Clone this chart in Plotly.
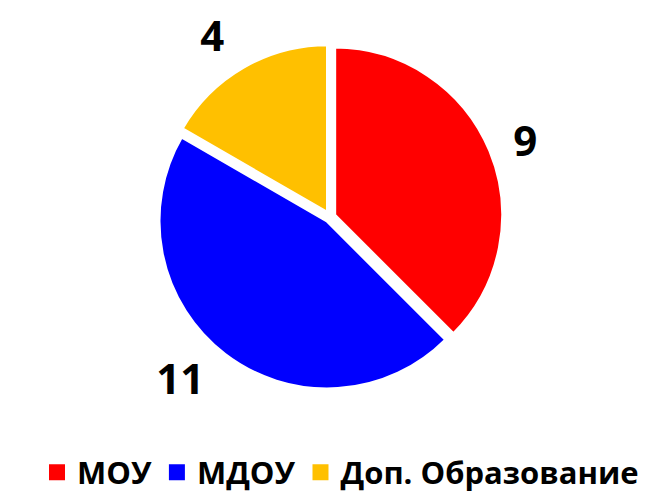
import plotly.graph_objects as go

# Data
categories = ["МОУ", "МДОУ", "Доп. Образование"]
values = [9, 11, 4]
colors = ["#FF0000", "#0000FF", "#FFC000"]

label_font = dict(family="Open Sans", size=42, color="black", weight="bold")
pulls = [0.03, 0.03, 0.03]

fig = go.Figure()
fig.add_trace(
    go.Pie(
        labels=categories,
        values=values,
        sort=False,
        direction="clockwise",
        rotation=0,
        pull=pulls,
        marker=dict(colors=colors, line=dict(color="white", width=3)),
        textinfo="none",
        domain=dict(x=[0.2241, 0.7444], y=[0.2267, 0.9272]),
        hoverinfo="label+value",
        showlegend=False,
    )
)

# same pie, slightly larger and transparent: carries the value labels a bit further out
fig.add_trace(
    go.Pie(
        labels=categories,
        values=values,
        sort=False,
        direction="clockwise",
        rotation=0,
        pull=pulls,
        marker=dict(colors=["rgba(0,0,0,0)"] * 3, line=dict(width=0)),
        textinfo="value",
        textposition="outside",
        textfont=label_font,
        outsidetextfont=label_font,
        domain=dict(x=[0.2090, 0.7594], y=[0.2126, 0.9534]),
        hoverinfo="skip",
        showlegend=False,
    )
)

# legend entries with larger square swatches
for name, col in zip(categories, colors):
    fig.add_trace(
        go.Scatter(
            x=[None], y=[None], mode="markers", name=name,
            marker=dict(symbol="square", size=16, color=col),
        )
    )

fig.update_xaxes(visible=False)
fig.update_yaxes(visible=False)

fig.update_layout(
    width=665,
    height=494,
    margin=dict(l=0, r=0, t=0, b=0, autoexpand=False),
    paper_bgcolor="white",
    plot_bgcolor="white",
    showlegend=True,
    legend=dict(
        orientation="h",
        x=0.5,
        xanchor="center",
        y=0.005,
        yanchor="bottom",
        font=dict(family="Open Sans", size=31, color="black", weight="bold"),
        itemsizing="trace",
        itemwidth=30,
    ),
)

fig.write_html("out.html")
